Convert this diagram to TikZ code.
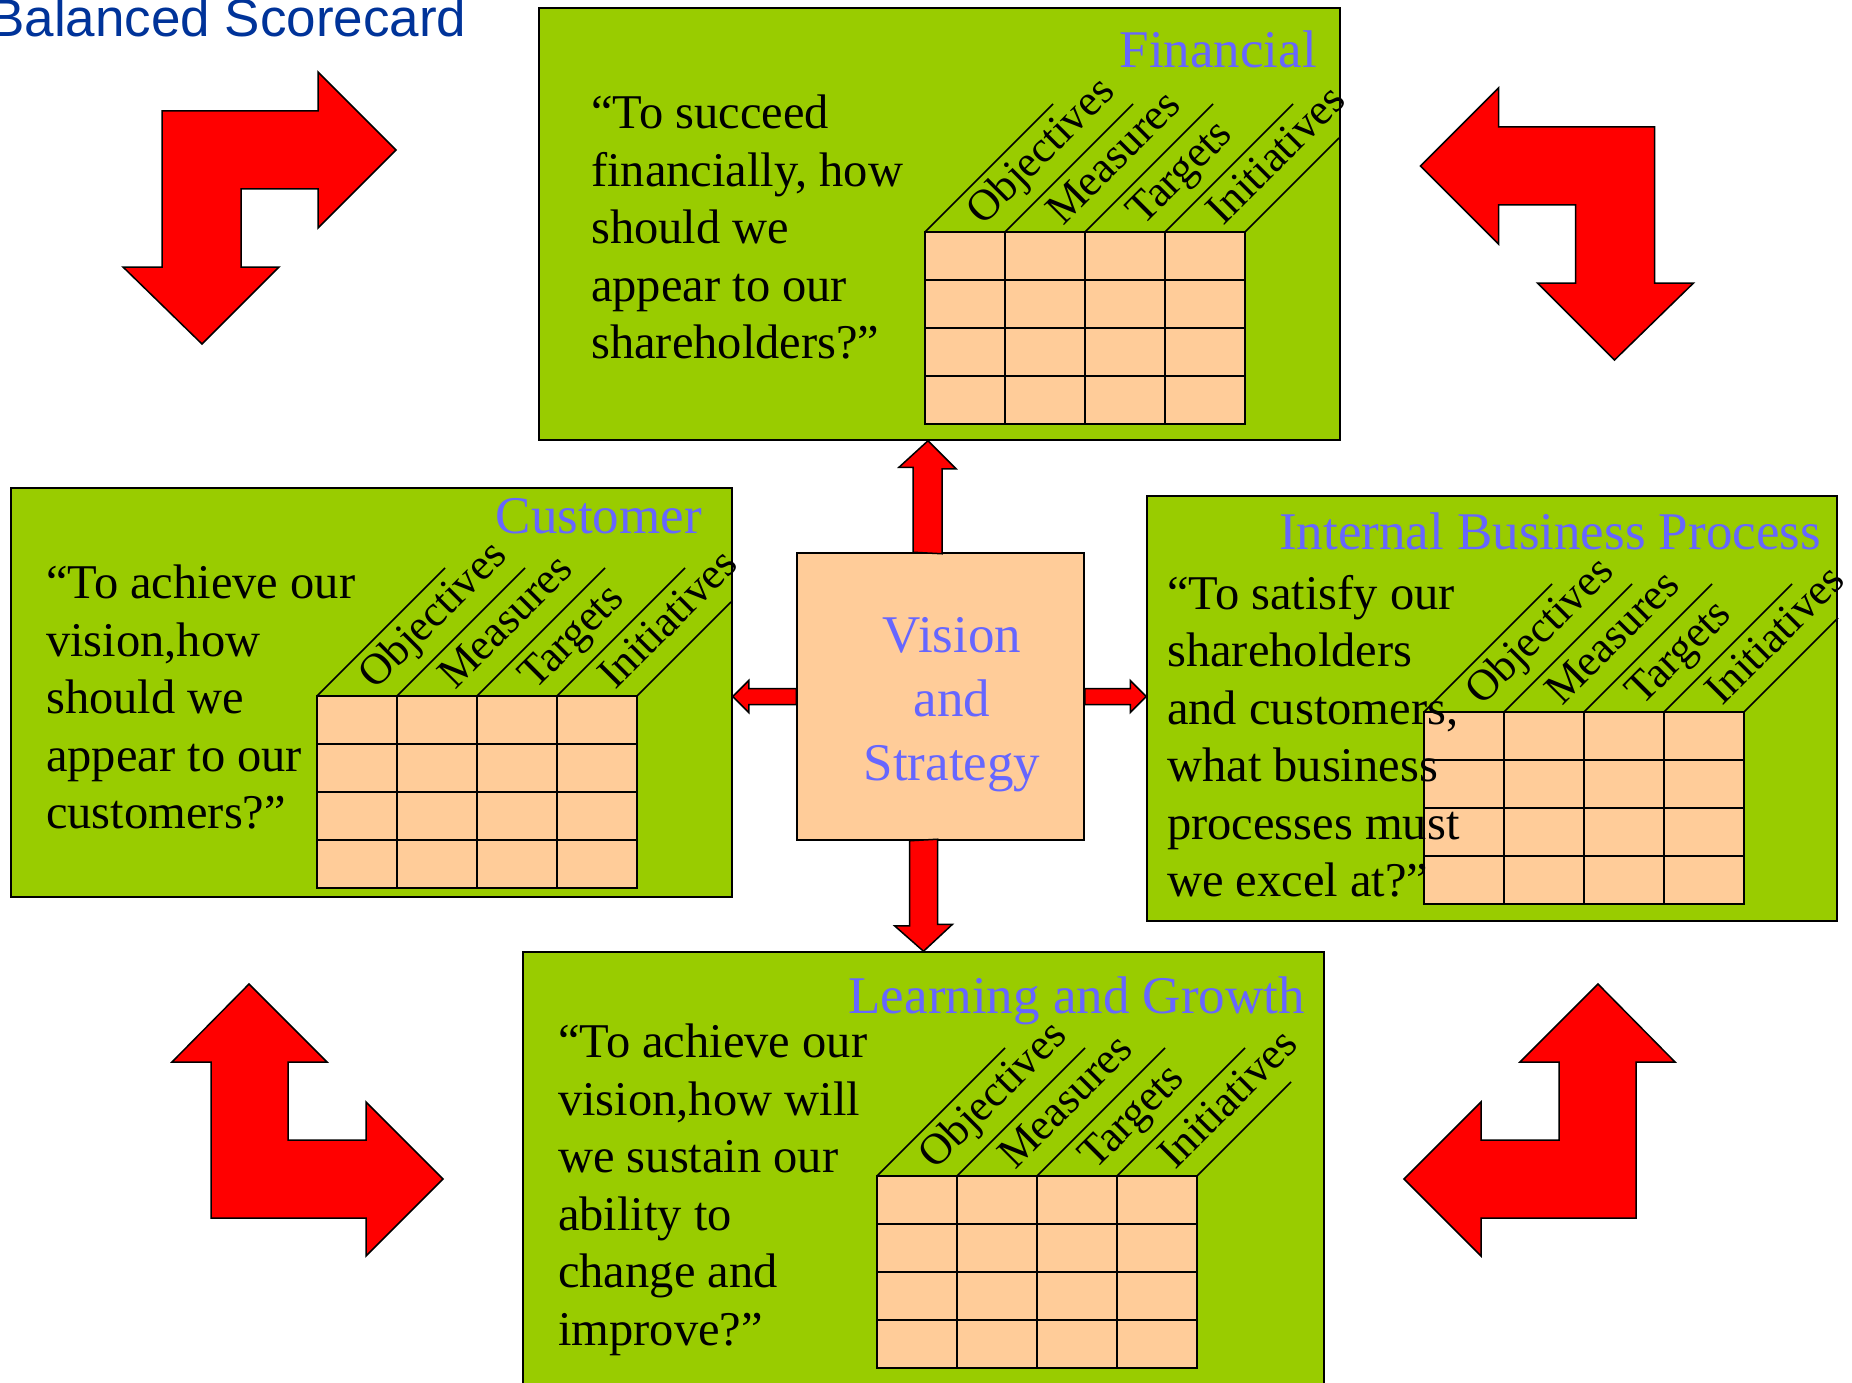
\documentclass[tikz,border=0pt]{standalone}
\usepackage{fontspec}
\setmainfont{Liberation Serif}
\newfontfamily\titlefont{Liberation Sans}
\usetikzlibrary{calc}

\definecolor{bscgreen}{RGB}{153,204,0}
\definecolor{bscpeach}{RGB}{255,204,153}
\definecolor{bscblue}{RGB}{102,102,255}
\definecolor{bscnavy}{RGB}{0,51,153}

\tikzset{
  panel/.style={draw, fill=bscgreen, line width=1.5pt, inner sep=0pt},
  quote/.style={anchor=north west, align=left, inner sep=0pt, font=\fontsize{48.5}{57.5}\selectfont},
  persp/.style={anchor=base east, inner sep=0pt, text=bscblue, font=\fontsize{53}{63}\selectfont},
  collabel/.style={rotate=45, anchor=base west, inner sep=0pt, font=\fontsize{44}{52}\selectfont},
  redarrow/.style={draw=black, fill=red, line width=1.5pt, line join=miter},
  gridline/.style={line width=1.5pt},
}

% table of a perspective: #1 name, (#2,#3) upper left corner of the cells
\newcommand{\scoregrid}[3]{%
  \begin{scope}[shift={(#2,#3)}]
    \filldraw[gridline, fill=bscpeach] (0,0) rectangle (320,192);
    \foreach \gx in {80,160,240} \draw[gridline] (\gx,0) -- (\gx,192);
    \foreach \gy in {48,96,144} \draw[gridline] (0,\gy) -- (320,\gy);
    \foreach \gx/\gtxt in {0/Objectives,80/Measures,160/Targets,240/Initiatives}{
      \draw[gridline] (\gx,0) -- ++(128,-128);        % slanted header line
      \node[collabel] (#1-\gtxt) at (\gx+58,-5) {\gtxt};
    }
    \draw[gridline] (320,0) -- ++(94,-94);
  \end{scope}}

\begin{document}
\begin{tikzpicture}[x=1pt,y=-1pt]
\useasboundingbox (0,0) rectangle (1852,1383);

% Title
\node[anchor=base west, inner sep=0pt, text=bscnavy, font=\titlefont\fontsize{53}{63}\selectfont] (title) at (-11,37) {Balanced Scorecard};

%-------------------------------------------- Perspectives (boxes)
\node[panel, minimum width=801pt, minimum height=432pt] (fin) at (939.5,224) {};
\node[panel, minimum width=721pt, minimum height=409pt] (cust) at (371.5,692.5) {};
\node[panel, minimum width=690pt, minimum height=425pt] (ibp) at (1492,708.5) {};
\node[panel, minimum width=801pt, minimum height=440pt] (learn) at (923.5,1172) {};

% Tables
\scoregrid{fin}{925}{232}
\scoregrid{cust}{317}{696}
\scoregrid{ibp}{1424}{712}
\scoregrid{learn}{877}{1176}

% Headings
\node[persp] (fin-head) at (1317,68) {Financial};
\node[persp] (cust-head) at (702,533) {Customer};
\node[persp] (ibp-head) at (1821,549) {Internal Business Process};
\node[persp] (learn-head) at (1305,1013) {Learning and Growth};

% Questions
\node[quote] (fin-text) at (591,95) {“To succeed\\financially, how\\should we\\appear to our\\shareholders?”};
\node[quote] (cust-text) at (46,565) {“To achieve our\\vision,how\\should we\\appear to our\\customers?”};
\node[quote] (ibp-text) at (1167,575) {“To satisfy our\\shareholders\\and customers,\\what business\\processes must\\we excel at?”};
\node[quote] (learn-text) at (558,1024) {“To achieve our\\vision,how will\\we sustain our\\ability to\\change and\\improve?”};

%-------------------------------------------- Vision and Strategy
\node[draw, fill=bscpeach, line width=1.5pt, minimum width=287pt, minimum height=287pt, inner sep=0pt] (vis) at (940.5,696.5) {};
\node[anchor=north, align=center, inner sep=0pt, text=bscblue, font=\fontsize{53}{64}\selectfont] (vis-text) at (952,617) {Vision\\and\\Strategy};

% Vision -> Financial
\draw[redarrow] ($(vis.north)+(-27.5,0)$) -- ++(0,-85) -- ++(-14,0) -- ($(fin.south)+(-11.5,0)$)
   -- ++(28,28) -- ++(-14,0) -- ++(0,85) -- cycle;
% Vision -> Learning
\draw[redarrow] ($(vis.south)+(-31,0)$) -- ++(0,85) -- ++(-15,0) -- (learn.north)
   -- ++(29,-27) -- ++(-15,0) -- ++(0,-85) -- cycle;
% Vision -> Internal Business Process
\draw[redarrow] ($(vis.east)+(0,-8)$) -- ($(vis.east -| ibp.west)+(-16,-8)$) -- ++(0,-8) -- (vis.east -| ibp.west)
   -- ++(-16,16) -- ++(0,-8) -- ($(vis.east)+(0,8)$) -- cycle;
% Vision -> Customer
\draw[redarrow] ($(vis.west)+(0,-8)$) -- ($(vis.west -| cust.east)+(16,-8)$) -- ++(0,-8) -- (vis.west -| cust.east)
   -- ++(16,16) -- ++(0,-8) -- ($(vis.west)+(0,8)$) -- cycle;

%-------------------------------------------- Bent arrows in the corners
% top left
\draw[redarrow] (162,111) -- (318,111) -- (318,72) -- (396,150) -- (318,228) -- (318,189) -- (241,189)
   -- (241,267) -- (279,267) -- (202,344) -- (123,267) -- (162,267) -- cycle;
% top right
\draw[redarrow] (1654.5,127) -- (1498.5,127) -- (1498.5,88) -- (1420.5,166) -- (1498.5,244) -- (1498.5,205) -- (1575.5,205)
   -- (1575.5,283) -- (1537.5,283) -- (1614.5,360) -- (1693.5,283) -- (1654.5,283) -- cycle;
% bottom left
\draw[redarrow] (249,984) -- (327,1062) -- (288,1062) -- (288,1140) -- (366,1140) -- (366,1102) -- (443,1179)
   -- (366,1256) -- (366,1218) -- (211,1218) -- (211,1062) -- (172,1062) -- cycle;
% bottom right
\draw[redarrow] (1598,984) -- (1520,1062) -- (1559,1062) -- (1559,1140) -- (1481,1140) -- (1481,1102) -- (1404,1179)
   -- (1481,1256) -- (1481,1218) -- (1636,1218) -- (1636,1062) -- (1675,1062) -- cycle;

\end{tikzpicture}
\end{document}
